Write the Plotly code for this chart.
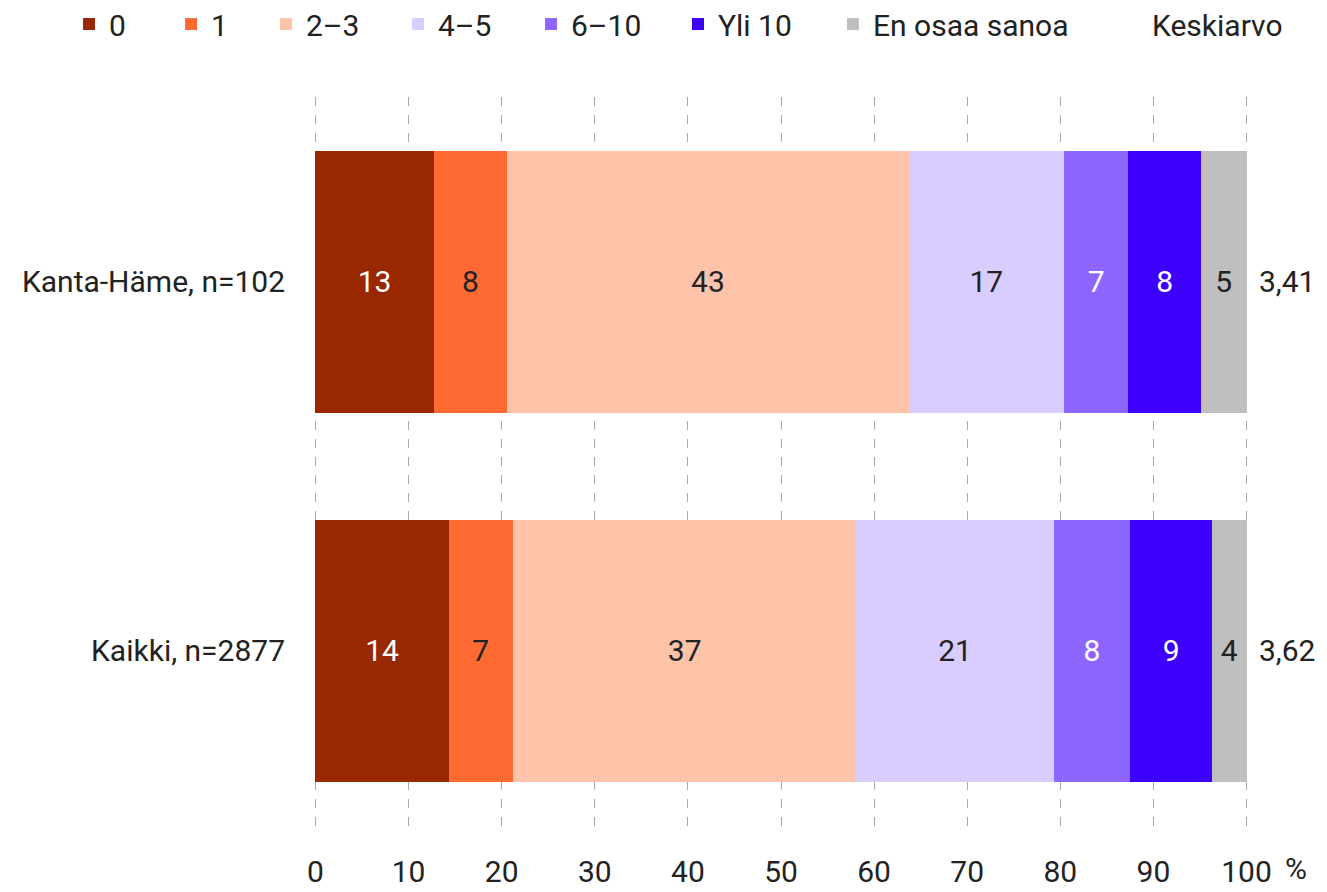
import plotly.graph_objects as go

categories = ["Kanta-Häme, n=102", "Kaikki, n=2877"]
series_names = ["0", "1", "2–3", "4–5", "6–10", "Yli 10", "En osaa sanoa"]
v_0 = [12.7, 14.3]
v_1 = [7.9, 6.9]
v_2_3 = [43.1, 36.9]
v_4_5 = [16.7, 21.2]
v_6_10 = [6.9, 8.2]
v_yli10 = [7.8, 8.8]
v_eos = [4.9, 3.7]
means = ["3,41", "3,62"]
x_ticks = [0, 10, 20, 30, 40, 50, 60, 70, 80, 90, 100]

series_values = [v_0, v_1, v_2_3, v_4_5, v_6_10, v_yli10, v_eos]
colors = ["#992700", "#FF6A33", "#FFC3AA", "#D9CCFF", "#8C66FF", "#3D00FF", "#BFBFBF"]
text_colors = ["white", "#222222", "#222222", "#222222", "white", "white", "#222222"]
legend_widths = [57, 50, 87, 88, 102, 110, 200]

FONT = "Roboto"
FS = 30

fig = go.Figure()
for name, vals, col, tcol, lw in zip(series_names, series_values, colors, text_colors, legend_widths):
    fig.add_trace(go.Bar(
        y=categories, x=vals, name=name, orientation="h",
        marker=dict(color=col, line=dict(width=0)),
        texttemplate="%{x:.0f}", textposition="inside", insidetextanchor="middle",
        textangle=0,
        textfont=dict(color=tcol, size=FS, family=FONT),
        legendwidth=lw,
        hoverinfo="skip",
    ))

annotations = []
for cat, m in zip(categories, means):
    annotations.append(dict(x=1.042, xref="paper", y=cat, yref="y", text=m,
                            showarrow=False, font=dict(size=FS, family=FONT, color="#222222"),
                            xanchor="center"))
annotations.append(dict(x=0.967, xref="paper", y=1.0966, yref="paper", text="Keskiarvo",
                        showarrow=False, font=dict(size=FS, family=FONT, color="#222222"),
                        xanchor="center", yanchor="middle"))
annotations.append(dict(x=1.051, xref="paper", y=-0.046, yref="paper", text="%",
                        showarrow=False, font=dict(size=FS, family=FONT, color="#222222"),
                        xanchor="center", yanchor="middle"))

fig.update_layout(
    barmode="stack",
    bargap=0.29,
    width=1319, height=884,
    margin=dict(l=306, r=79, t=89, b=57, autoexpand=False),
    paper_bgcolor="white", plot_bgcolor="white",
    font=dict(family=FONT, size=FS, color="#222222"),
    legend=dict(orientation="h", x=-0.2623, xanchor="left", y=1.1341, yanchor="top",
                font=dict(size=FS, family=FONT, color="#222222"),
                traceorder="normal", itemclick=False, itemdoubleclick=False),
    annotations=annotations,
)
fig.update_xaxes(range=[-0.16, 100.16], tickvals=x_ticks, showgrid=True, gridcolor="#AAAAAA",
                 griddash="dash", gridwidth=1, zeroline=False, showline=False,
                 ticks="", ticklabelstandoff=16, automargin=False,
                 tickfont=dict(size=FS, family=FONT, color="#222222"),
                 fixedrange=True)
fig.update_yaxes(autorange="reversed", showgrid=False, zeroline=False, showline=False,
                 ticks="", ticklabelstandoff=28, automargin=False,
                 tickfont=dict(size=FS, family=FONT, color="#222222"),
                 fixedrange=True)

fig.write_html("out.html")
